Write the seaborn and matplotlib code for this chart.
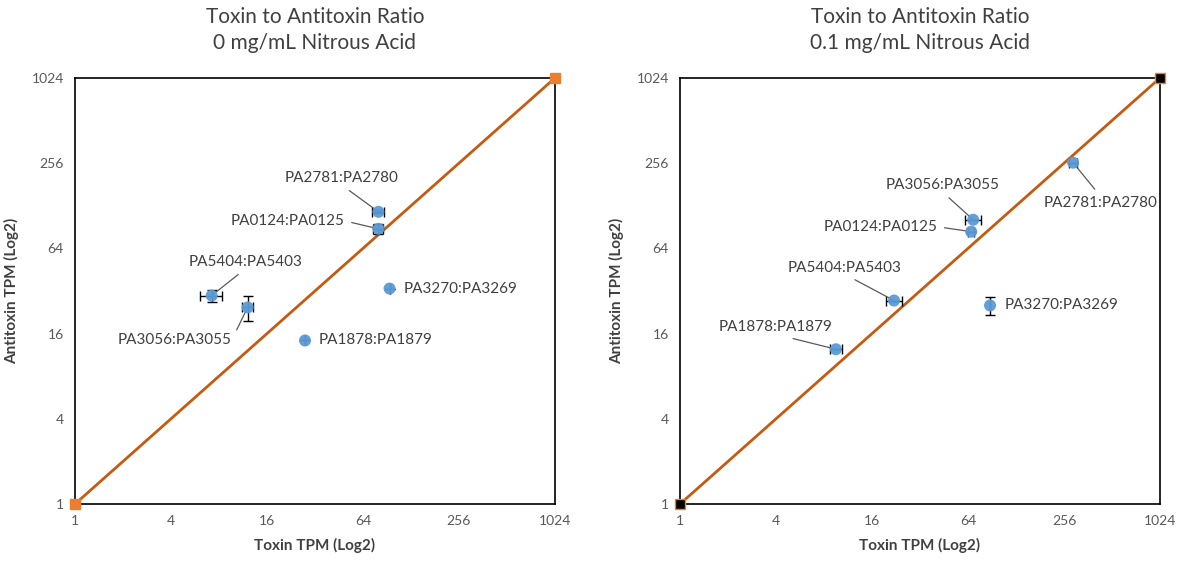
import numpy as np
import pandas as pd
import matplotlib
matplotlib.use("Agg")
import matplotlib.pyplot as plt
import matplotlib.ticker as mticker
import seaborn as sns

# Pares toxina:antitoxina, TPM
pairs = ["PA2781:PA2780", "PA0124:PA0125", "PA5404:PA5403",
         "PA3056:PA3055", "PA3270:PA3269", "PA1878:PA1879"]

# 0 mg/mL
toxin_0 = [80, 80, 7.2, 12.1, 94, 27.7]
antitoxin_0 = [116, 88, 29.7, 24.5, 33.3, 14.3]
toxin_err_0 = [7, 6, 1.1, 0.9, 0, 0]
antitoxin_err_0 = [3, 7, 3, 5, 0, 0]

# 0.1 mg/mL
toxin_01 = [292, 67, 22, 69, 88, 9.5]
antitoxin_01 = [258, 84, 27.4, 102, 25.3, 12.4]
toxin_err_01 = [15, 3, 2.5, 8, 0, 0.8]
antitoxin_err_01 = [0, 0, 0, 0, 3.5, 0]

ticks = [1, 4, 16, 64, 256, 1024]
diag = [1, 1024]

titles = ["Toxin to Antitoxin Ratio\n0 mg/mL Nitrous Acid",
          "Toxin to Antitoxin Ratio\n0.1 mg/mL Nitrous Acid"]

# deslocamento dos rótulos (pixels), linha-guia e ponto de saída da linha
label_pos = [
    {"PA2781:PA2780": (-37, 34, True, (0.5, 0)), "PA0124:PA0125": (-91, 8, True, (1, 0.5)),
     "PA5404:PA5403": (34, 34, True, (0.5, 0)), "PA3056:PA3055": (-73, -33, True, (1, 0.5)),
     "PA3270:PA3269": (14, 0, False, None), "PA1878:PA1879": (14, 0, False, None)},
    {"PA2781:PA2780": (27, -40, True, (0.5, 1)), "PA3056:PA3055": (-31, 35, True, (0.5, 0)),
     "PA0124:PA0125": (-91, 5, True, (1, 0.5)), "PA5404:PA5403": (-49, 33, True, (0.5, 0)),
     "PA3270:PA3269": (15, 0, False, None), "PA1878:PA1879": (-60, 22, True, (0.5, 0))},
]

sns.set_style("white")
plt.rcParams['font.family'] = ['Lato', 'DejaVu Sans']

fig = plt.figure(figsize=(11.81, 5.63), dpi=100)
axes = [fig.add_axes([0.0635, 0.1048, 0.4064, 0.7567]),
        fig.add_axes([0.5758, 0.1048, 0.4064, 0.7567])]

datasets = [
    (toxin_0, antitoxin_0, toxin_err_0, antitoxin_err_0, "#ED7D31"),
    (toxin_01, antitoxin_01, toxin_err_01, antitoxin_err_01, "black"),
]

for i, ax in enumerate(axes):
    tx, ax_y, tx_err, ay_err, end_color = datasets[i]
    df = pd.DataFrame({"pair": pairs, "toxin": tx, "antitoxin": ax_y})

    # linha diagonal 1:1
    ax.plot(diag, diag, color="#C55A11", lw=2, zorder=2)
    ax.plot(diag, diag, ls="none", marker="s", ms=7, mfc=end_color,
            mec="#ED7D31", mew=1, zorder=5, clip_on=False)

    ax.errorbar(df["toxin"], df["antitoxin"], xerr=tx_err, yerr=ay_err,
                fmt="none", ecolor="black", elinewidth=1, capsize=3.5,
                capthick=1, zorder=3)
    sns.scatterplot(data=df, x="toxin", y="antitoxin", ax=ax, s=75,
                    color="#5B9BD5", edgecolor="none", zorder=4, alpha=0.95)

    for _, row in df.iterrows():
        dx, dy, line, rel = label_pos[i][row["pair"]]
        if line:
            ax.annotate(row["pair"], xy=(row["toxin"], row["antitoxin"]),
                        xytext=(dx, dy), textcoords="offset pixels",
                        ha="center", va="center", fontsize=11, color="#404040",
                        arrowprops=dict(arrowstyle="-", color="#595959", lw=0.9,
                                        shrinkA=3, shrinkB=0, relpos=rel))
        else:
            ax.annotate(row["pair"], xy=(row["toxin"], row["antitoxin"]),
                        xytext=(dx, dy), textcoords="offset pixels",
                        ha="left", va="center", fontsize=11, color="#404040")

    ax.set_xscale("log", base=2)
    ax.set_yscale("log", base=2)
    ax.set_xlim(1, 1024)
    ax.set_ylim(1, 1024)
    ax.set_xticks(ticks)
    ax.set_yticks(ticks)
    ax.xaxis.set_major_formatter(mticker.FuncFormatter(lambda v, p: f"{int(v)}"))
    ax.yaxis.set_major_formatter(mticker.FuncFormatter(lambda v, p: f"{int(v)}"))
    ax.xaxis.set_minor_locator(mticker.NullLocator())
    ax.yaxis.set_minor_locator(mticker.NullLocator())
    ax.tick_params(length=0, labelsize=10, labelcolor="#595959", pad=8)
    for s in ax.spines.values():
        s.set_color("black")
        s.set_linewidth(1.2)

    ax.set_xlabel("Toxin TPM (Log2)", fontsize=11, fontweight="bold",
                  color="#404040", labelpad=8)
    ax.set_ylabel("Antitoxin TPM (Log2)", fontsize=11, fontweight="bold",
                  color="#404040", labelpad=9)
    ax.set_title(titles[i], fontsize=15, color="#404040", pad=21, linespacing=1.35)

fig.savefig("out.png", dpi=100)
